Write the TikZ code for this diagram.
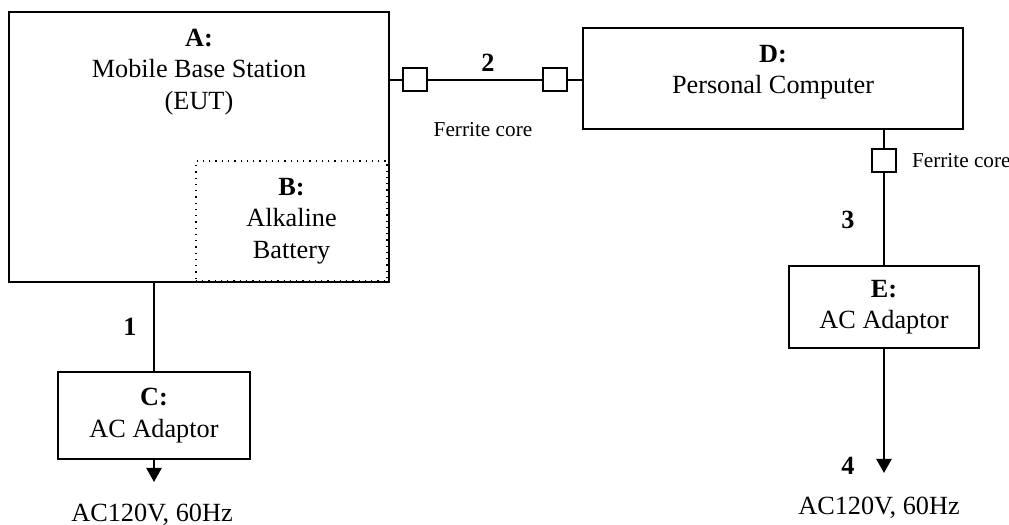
\documentclass[tikz,border=0pt]{standalone}
\usepackage{fontspec}
\setmainfont{Liberation Serif}
\usepackage{tikz}
\usetikzlibrary{arrows.meta,positioning}
\newcommand\bodysize{\fontsize{10.5}{12.6}\selectfont}
\tikzset{
  box/.style={draw,line width=0.9pt,align=center,inner sep=0pt},
  dotbox/.style={draw,dotted,line width=0.5pt,align=center,inner sep=0pt},
  core/.style={draw,line width=0.8pt,fill=white,minimum width=9.6pt,minimum height=9.2pt,inner sep=0pt},
  cable/.style={line width=0.9pt},
  mains/.style={cable,-{Triangle[width=6pt,length=5.6pt]}},
  num/.style={font=\bodysize\bfseries},
  note/.style={font=\fontsize{8.5}{10}\selectfont}
}

\begin{document}
\begin{tikzpicture}[x=0.4pt,y=-0.4pt,every node/.append style={font=\bodysize}]
\useasboundingbox (0,0) rectangle (1009,525);
% units
\node[dotbox,minimum width=76.4pt,minimum height=48pt] (B) at (291.5,221) {\textbf{B:}\\Alkaline\\Battery};
\node[box,minimum width=152pt,minimum height=108pt] (A) at (199,147) {};
\node[align=center] (Atxt) at (199,72) {\textbf{A:}\\Mobile Base Station\\(EUT)};
\node[box,minimum width=76.8pt,minimum height=34.8pt] (C) at (154,415.5) {\textbf{C:}\\AC Adaptor};
\node[box,minimum width=152pt,minimum height=40.4pt] (D) at (773,78.5) {};
\node[align=center] (Dtxt) at (773,72) {\textbf{D:}\\Personal Computer};
\node[box,minimum width=76pt,minimum height=32.8pt] (E) at (884,307) {\textbf{E:}\\AC Adaptor};

% ferrite cores
\node[core] (f1) at (414.5,80) {};
\node[core] (f2) at (554.5,80) {};
\node[core] (f3) at (884,161) {};
\node[note] (fc1) at (483,130) {Ferrite core};
\node[note,right=2.5pt of f3] (fc2) {Ferrite core};

% cables
\draw[cable] (A.east |- f1) -- (f1.west) (f1.east) -- (f2.west) (f2.east) -- (D.west |- f2);
\draw[cable] (f3 |- D.south) -- (f3.north) (f3.south) -- (E.north);
\draw[cable] (C.north |- A.south) -- (C.north);
\node[num] (n1) at (130,327) {1};
\node[num] (n2) at (488,63) {2};
\node[num] (n3) at (848,220) {3};
\node[num] (n4) at (848,466) {4};

% mains supply
\coordinate (plugC) at (154,482);
\coordinate (plugE) at (884,473);
\draw[mains] (C.south) -- (plugC);
\draw[mains] (E.south) -- (plugE);
\node (acC) at (152,515) {AC120V, 60Hz};
\node (acE) at (879,508) {AC120V, 60Hz};
\end{tikzpicture}
\end{document}
